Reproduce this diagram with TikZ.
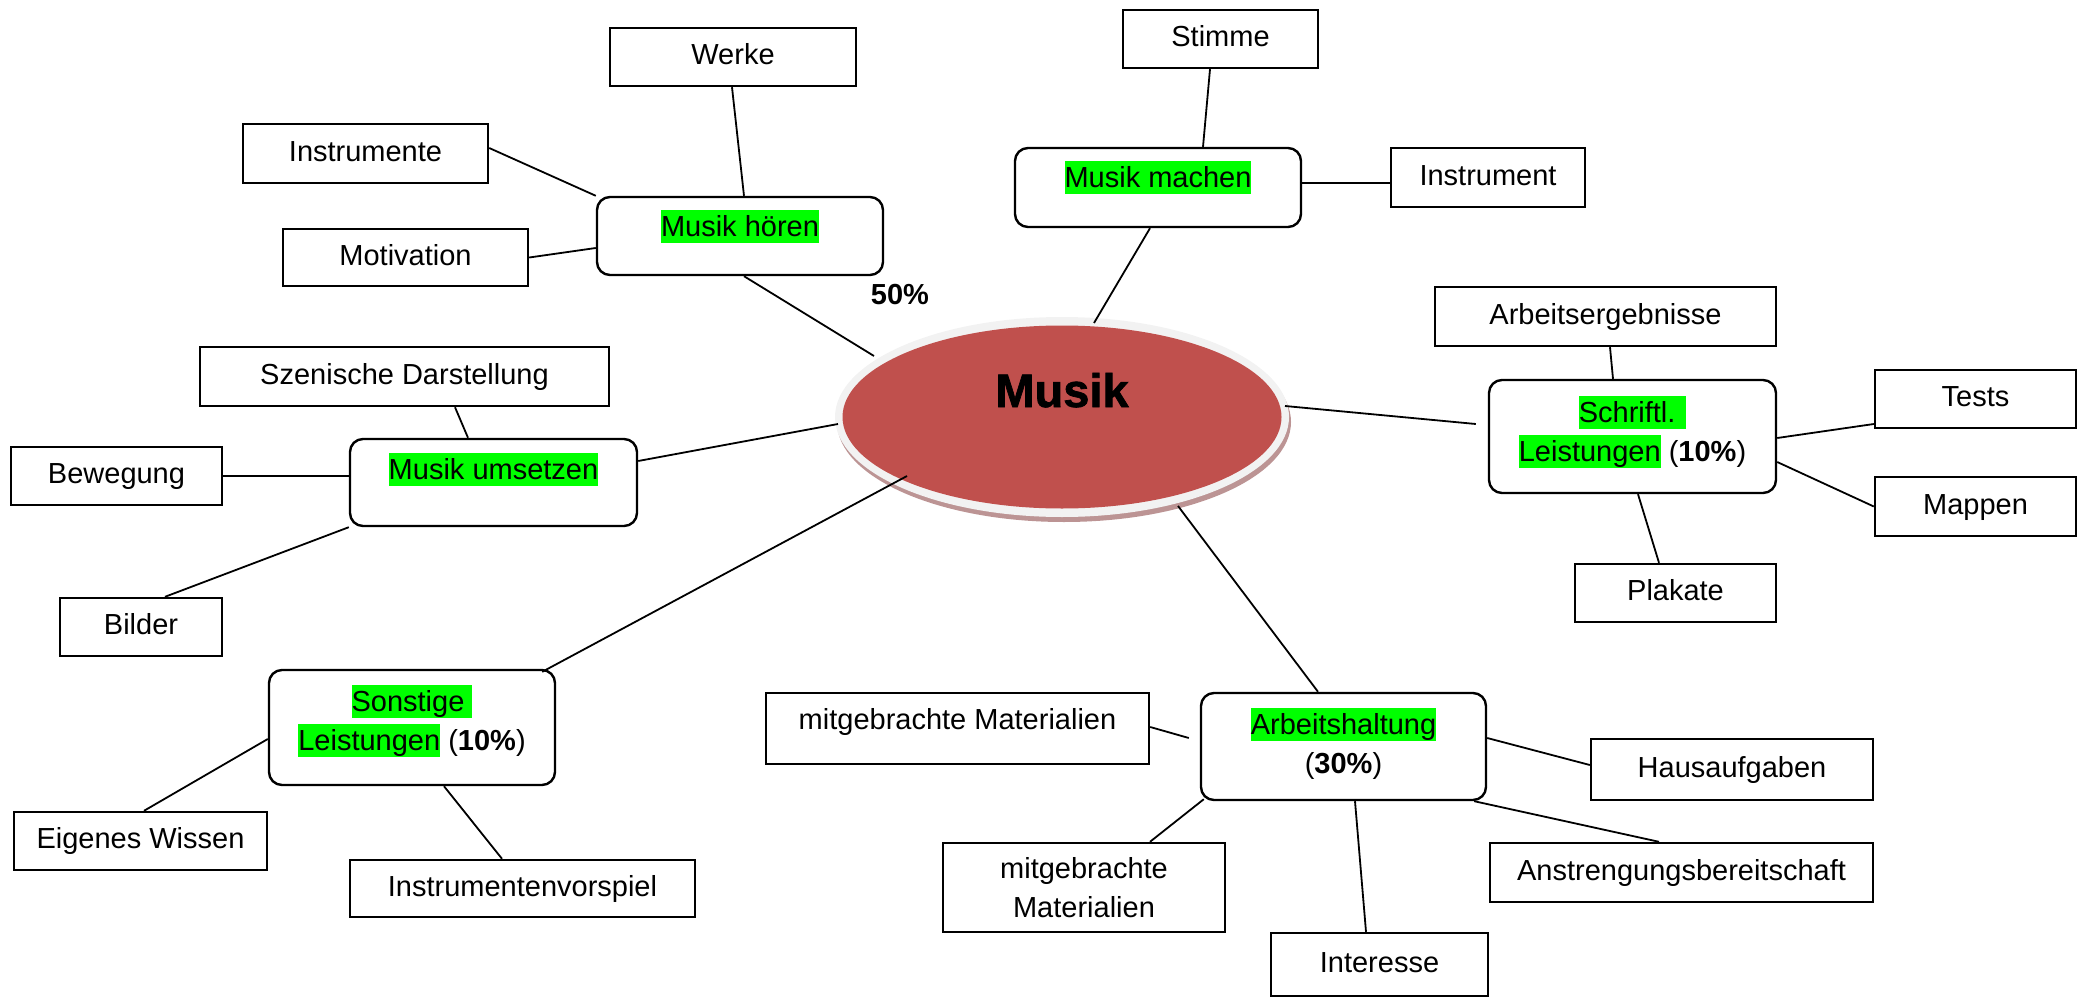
\documentclass[tikz,border=0pt]{standalone}
\usepackage{fontspec}
\setmainfont{Liberation Sans}
\newfontfamily\heavyfont[FakeBold=1.5]{Liberation Sans Bold}
\usetikzlibrary{shapes.geometric,shadows}
\definecolor{hlgreen}{RGB}{0,255,0}
\definecolor{musikred}{RGB}{192,80,77}
\definecolor{ringgray}{RGB}{242,242,242}
\definecolor{shadowred}{RGB}{188,148,148}
\newcommand{\hlg}[1]{{\setlength{\fboxsep}{0pt}\colorbox{hlgreen}{\rule[-6.5pt]{0pt}{33pt}#1}}}
\begin{document}
\begin{tikzpicture}[x=1pt,y=-1pt,
  txt/.style={font=\fontsize{29}{39}\selectfont},
  plainbox/.style={draw, line width=2.4pt, fill=white, inner sep=0pt, txt, align=center},
  onel/.style={text height=21pt, text depth=6pt},
  roundbox/.style={draw, line width=2.4pt, fill=white, rounded corners=13pt, inner sep=0pt, txt, align=center},
  conn/.style={line width=1.8pt}
]
\useasboundingbox (0,0) rectangle (2085,998);

% central ellipse
\node[ellipse, fill=ringgray, minimum width=454pt, minimum height=200pt, inner sep=0pt,
  drop shadow={shadow xshift=2pt, shadow yshift=-5pt, fill=shadowred, opacity=1},
  path picture={\fill[musikred] (path picture bounding box.center) ellipse [x radius=219.5pt, y radius=91.5pt];},
  font=\fontsize{47}{50}\heavyfont, text height=34pt, text depth=54pt] (musik) at (1062,417) {Musik};

\node[font=\fontsize{29}{39}\selectfont\bfseries] (pct) at (900,295) {50\%};

% rounded category boxes
\node[roundbox, minimum width=286pt, minimum height=78pt, text height=26.5pt, text depth=26.5pt] (hoeren) at (740,236) {\hlg{Musik hören}};
\node[roundbox, minimum width=286pt, minimum height=79pt, text height=26.5pt, text depth=26.5pt] (machen) at (1158,187.5) {\hlg{Musik machen}};
\node[roundbox, minimum width=287pt, minimum height=113pt] (schriftl) at (1632.5,436.5) {\hlg{Schriftl. }\\\hlg{Leistungen} (\textbf{10\%})\rule[-16.5pt]{0pt}{0pt}};
\node[roundbox, minimum width=287pt, minimum height=87pt, text height=26.5pt, text depth=33.5pt] (umsetzen) at (493.5,482.5) {\hlg{Musik umsetzen}};
\node[roundbox, minimum width=286pt, minimum height=115pt] (sonstige) at (412,727.5) {\hlg{Sonstige }\\\hlg{Leistungen} (\textbf{10\%})\rule[-19.5pt]{0pt}{0pt}};
\node[roundbox, minimum width=285pt, minimum height=107pt] (arbeit) at (1343.5,746.5) {\hlg{Arbeitshaltung}\\(\textbf{30\%})\rule[-12pt]{0pt}{0pt}};

% plain boxes
\node[plainbox, onel, minimum width=246pt, minimum height=58pt] (werke) at (733,57) {Werke};
\node[plainbox, onel, minimum width=245pt, minimum height=59pt] (instrumente) at (365.5,153.5) {Instrumente};
\node[plainbox, onel, minimum width=245pt, minimum height=57pt] (motivation) at (405.5,257.5) {Motivation};
\node[plainbox, onel, minimum width=195pt, minimum height=58pt] (stimme) at (1220.5,39) {Stimme};
\node[plainbox, onel, minimum width=194pt, minimum height=59pt] (instrument) at (1488,177.5) {Instrument};
\node[plainbox, onel, minimum width=341pt, minimum height=59pt] (arbeitserg) at (1605.5,316.5) {Arbeitsergebnisse};
\node[plainbox, onel, minimum width=201pt, minimum height=58pt] (tests) at (1975.5,399) {Tests};
\node[plainbox, onel, minimum width=201pt, minimum height=59pt] (mappen) at (1975.5,506.5) {Mappen};
\node[plainbox, onel, minimum width=201pt, minimum height=58pt] (plakate) at (1675.5,593) {Plakate};
\node[plainbox, onel, minimum width=409pt, minimum height=59pt] (szenische) at (404.5,376.5) {Szenische Darstellung};
\node[plainbox, onel, minimum width=211pt, minimum height=58pt] (bewegung) at (116.5,476) {Bewegung};
\node[plainbox, onel, minimum width=162pt, minimum height=58pt] (bilder) at (141,627) {Bilder};
\node[plainbox, onel, minimum width=253pt, minimum height=58pt] (eigenes) at (140.5,841) {Eigenes Wissen};
\node[plainbox, onel, minimum width=345pt, minimum height=57pt] (vorspiel) at (522.5,888.5) {Instrumentenvorspiel};
\node[plainbox, text height=21pt, text depth=20pt, minimum width=383pt, minimum height=71pt] (mitgebA) at (957.5,728.5) {mitgebrachte Materialien};
\node[plainbox, minimum width=282pt, minimum height=89pt] (mitgebB) at (1084,887.5) {mitgebrachte\\Materialien};
\node[plainbox, onel, minimum width=282pt, minimum height=61pt] (haus) at (1732,769.5) {Hausaufgaben};
\node[plainbox, onel, minimum width=383pt, minimum height=59pt] (anstr) at (1681.5,872.5) {Anstrengungsbereitschaft};
\node[plainbox, onel, minimum width=217pt, minimum height=63pt] (interesse) at (1379.5,964.5) {Interesse};

% connectors
\draw[conn] ([shift={(-1,0)}]werke.south) -- ([shift={(4,0)}]hoeren.north);
\draw[conn] ([shift={(0,-5.5)}]instrumente.east) -- (hoeren.north west);
\draw[conn] (motivation.east) -- ([shift={(0,12)}]hoeren.west);
\draw[conn] ([shift={(4,0)}]hoeren.south) -- ([shift={(-188,-61)}]musik.center);
\draw[conn] ([shift={(-10.5,0)}]stimme.south) -- ([shift={(45,0)}]machen.north);
\draw[conn] ([shift={(0,-4.5)}]machen.east) -- ([shift={(0,5.5)}]instrument.west);
\draw[conn] ([shift={(-8,0)}]machen.south) -- ([shift={(32,-94)}]musik.center);
\draw[conn] ([shift={(4.5,0)}]arbeitserg.south) -- ([shift={(-19.5,0)}]schriftl.north);
\draw[conn] ([shift={(223,-11)}]musik.center) -- ([shift={(-12,-12.5)}]schriftl.west);
\draw[conn] ([shift={(0,1.5)}]schriftl.east) -- ([shift={(0,25)}]tests.west);
\draw[conn] ([shift={(0,25.5)}]schriftl.east) -- (mappen.west);
\draw[conn] ([shift={(5.5,0)}]schriftl.south) -- ([shift={(-16.5,0)}]plakate.north);
\draw[conn] ([shift={(50.5,0)}]szenische.south) -- ([shift={(-25.5,0)}]umsetzen.north);
\draw[conn] (bewegung.east) -- ([shift={(0,-6.5)}]umsetzen.west);
\draw[conn] ([shift={(24,0)}]bilder.north) -- (umsetzen.south west);
\draw[conn] ([shift={(0,-21.5)}]umsetzen.east) -- ([shift={(-224,7)}]musik.center);
\draw[conn] ([shift={(-14,3)}]sonstige.north east) -- ([shift={(-155,59)}]musik.center);
\draw[conn] ([shift={(3.5,0)}]eigenes.north) -- ([shift={(0,11.5)}]sonstige.west);
\draw[conn] ([shift={(32,0)}]sonstige.south) -- ([shift={(-20.5,0)}]vorspiel.north);
\draw[conn] ([shift={(116,89)}]musik.center) -- ([shift={(-25.5,0)}]arbeit.north);
\draw[conn] ([shift={(0,-1.5)}]mitgebA.east) -- ([shift={(-11,-8.5)}]arbeit.west);
\draw[conn] ([shift={(0,-8.5)}]arbeit.east) -- ([shift={(0,-4.5)}]haus.west);
\draw[conn] ([shift={(4,-2)}]arbeit.south west) -- ([shift={(66,0)}]mitgebB.north);
\draw[conn] ([shift={(11.5,0)}]arbeit.south) -- ([shift={(-13.5,0)}]interesse.north);
\draw[conn] ([shift={(-13,0)}]arbeit.south east) -- ([shift={(-22.5,0)}]anstr.north);
\end{tikzpicture}
\end{document}
